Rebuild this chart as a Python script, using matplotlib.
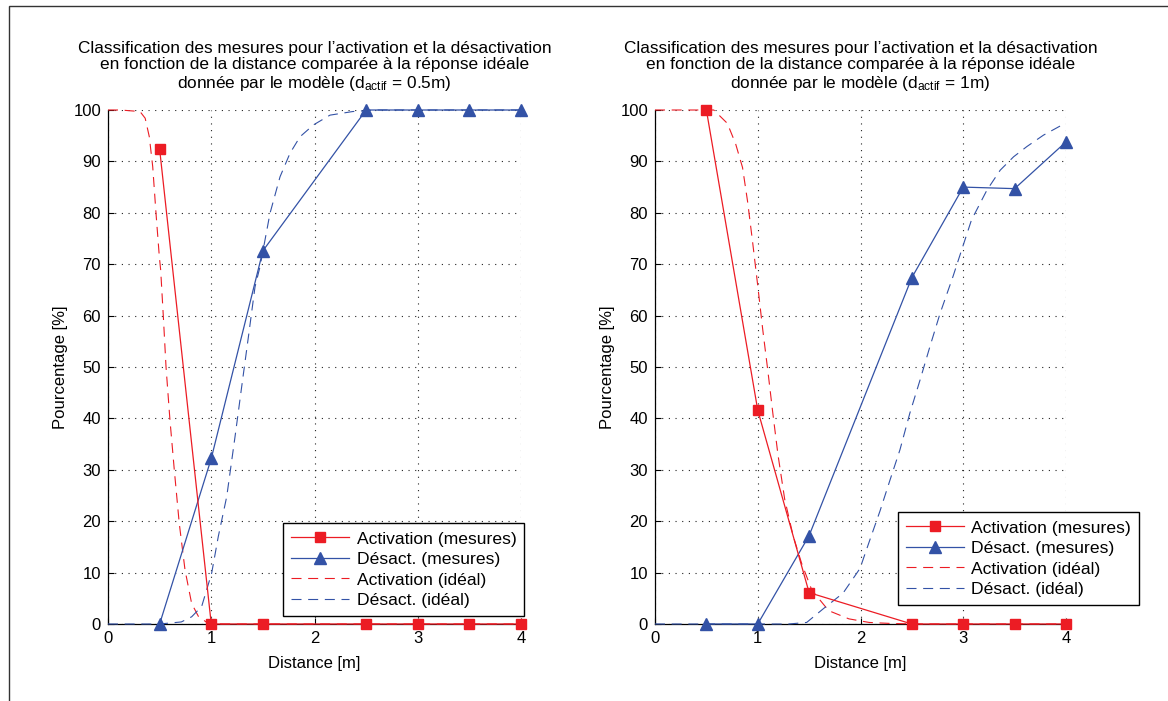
import matplotlib
matplotlib.use("Agg")
import matplotlib.pyplot as plt
from matplotlib.patches import Rectangle

plt.rcParams['font.family'] = ['Liberation Sans', 'DejaVu Sans']
plt.rcParams['mathtext.fontset'] = 'custom'
plt.rcParams['mathtext.rm'] = 'Liberation Sans'
plt.rcParams['mathtext.it'] = 'Liberation Sans'

RED = '#ec1c24'
BLUE = '#3352a6'

# measured distances
dist_meas = [0.5, 1.0, 1.5, 2.5, 3.0, 3.5, 4.0]

# Left panel (d_actif = 0.5 m)
act_meas_05 = [92.4, 0, 0, 0, 0, 0, 0]
des_meas_05 = [0, 32.2, 72.6, 100, 100, 100, 100]
act_ideal_x_05 = [0, 0.12, 0.31, 0.36, 0.40, 0.433, 0.465, 0.497, 0.51, 0.536, 0.562,
                  0.60, 0.642, 0.69, 0.746, 0.81, 0.875, 0.95, 1.1, 4.0]
act_ideal_y_05 = [100, 100, 99.7, 98.4, 94.8, 89, 79.9, 71.5, 68.9, 59.8, 50,
                  39.7, 30, 19.6, 10.5, 4, 1.5, 0.4, 0, 0]
des_ideal_x_05 = [0, 0.5, 0.71, 0.81, 0.907, 1.004, 1.068, 1.15, 1.23, 1.295, 1.36,
                  1.424, 1.472, 1.569, 1.666, 1.763, 1.86, 1.99, 2.15, 2.37, 2.6, 4.0]
des_ideal_y_05 = [0, 0, 0.4, 1.4, 3.4, 9.9, 17, 24.8, 36.4, 46.2, 55.9,
                  65.6, 69.5, 79.9, 87, 91.6, 94.8, 97.1, 99, 99.7, 100, 100]

# Right panel (d_actif = 1 m)
act_meas_1 = [100, 41.6, 6.1, 0, 0, 0, 0]
des_meas_1 = [0, 0, 17.2, 67.4, 85.0, 84.7, 93.8]
act_ideal_x_1 = [0, 0.572, 0.704, 0.785, 0.852, 0.901, 0.95, 1.0, 1.049, 1.098, 1.148,
                 1.197, 1.262, 1.345, 1.427, 1.526, 1.69, 1.887, 2.085, 2.3, 2.6, 4.0]
act_ideal_y_1 = [100, 100, 97.4, 93.4, 88.8, 82.2, 74.3, 65.8, 57.2, 49.3, 40.8,
                 32.9, 24.3, 17.1, 11.8, 6.6, 2.6, 1.0, 0.3, 0.1, 0, 0]
des_ideal_x_1 = [0, 1.3, 1.476, 1.64, 1.83, 1.995, 2.09, 2.19, 2.287, 2.384, 2.48,
                 2.58, 2.676, 2.774, 2.90, 2.985, 3.08, 3.23, 3.36, 3.49, 3.62, 3.78, 3.99]
des_ideal_y_1 = [0, 0, 0.3, 3, 6, 10.8, 16.3, 22, 28, 33.9, 41,
                 47.5, 54, 60.4, 67.6, 72.8, 78.6, 84.4, 88.3, 90.9, 92.9, 95.1, 97.4]

titles = [
    "Classification des mesures pour l\u2019activation et la désactivation\n"
    "en fonction de la distance comparée à la réponse idéale\n"
    "donnée par le modèle (d$_{\\mathrm{actif}}$ = 0.5m)",
    "Classification des mesures pour l\u2019activation et la désactivation\n"
    "en fonction de la distance comparée à la réponse idéale\n"
    "donnée par le modèle (d$_{\\mathrm{actif}}$ = 1m)",
]
legend_labels = ["Activation (mesures)", "Désact. (mesures)",
                 "Activation (idéal)", "Désact. (idéal)"]
xticks = [0, 1, 2, 3, 4]
yticks = [0, 10, 20, 30, 40, 50, 60, 70, 80, 90, 100]

panels = [
    dict(act=act_meas_05, des=des_meas_05, aix=act_ideal_x_05, aiy=act_ideal_y_05,
         dix=des_ideal_x_05, diy=des_ideal_y_05, rect=[108/1168, 77/701, 413/1168, 514/701],
         leg=(0.424, 0.0156)),
    dict(act=act_meas_1, des=des_meas_1, aix=act_ideal_x_1, aiy=act_ideal_y_1,
         dix=des_ideal_x_1, diy=des_ideal_y_1, rect=[655/1168, 77/701, 411/1168, 514/701],
         leg=(0.591, 0.037)),
]

fig = plt.figure(figsize=(11.68, 7.01), dpi=100)
fig.patch.set_facecolor('white')

# frame around figure (only left and top visible)
fig.add_artist(Rectangle((9/1168, -0.5), 2.0, 1.5 - 6/701, transform=fig.transFigure,
                         fill=False, edgecolor='#333333', linewidth=1.0))

dash = (0, (9, 6))
for i, p in enumerate(panels):
    ax = fig.add_axes(p['rect'])
    ax.plot(p['aix'], p['aiy'], color=RED, lw=0.8, linestyle=dash, clip_on=False, zorder=3)
    ax.plot(p['dix'], p['diy'], color=BLUE, lw=0.8, linestyle=dash, clip_on=False, zorder=3)
    l1, = ax.plot(dist_meas, p['act'], color=RED, lw=0.9, marker='s', markersize=7.5,
                  markeredgecolor=RED, markerfacecolor=RED, clip_on=False, zorder=5)
    l2, = ax.plot(dist_meas, p['des'], color=BLUE, lw=0.9, marker='^', markersize=9,
                  markeredgecolor=BLUE, markerfacecolor=BLUE, clip_on=False, zorder=4)
    h3, = ax.plot([], [], color=RED, lw=0.8, linestyle=dash)
    h4, = ax.plot([], [], color=BLUE, lw=0.8, linestyle=dash)

    ax.set_xlim(0, 4)
    ax.set_ylim(0, 100)
    ax.set_xticks(xticks)
    ax.set_yticks(yticks)
    ax.spines['top'].set_visible(False)
    ax.spines['right'].set_visible(False)
    ax.spines['left'].set_linewidth(0.9)
    ax.spines['bottom'].set_linewidth(0.9)
    ax.tick_params(direction='in', length=4, width=0.8, labelsize=12, pad=5, colors='black')
    ax.grid(True, color='#222222', linestyle=(0, (1, 5)), linewidth=0.8)
    ax.set_axisbelow(True)
    ax.set_xlabel("Distance [m]", fontsize=12, labelpad=7)
    ax.set_ylabel("Pourcentage [%]", fontsize=12, labelpad=4)
    ax.set_title(titles[i], fontsize=12.4, pad=16, linespacing=1.12)

    leg = ax.legend([l1, l2, h3, h4], legend_labels, loc='lower left',
                    bbox_to_anchor=p['leg'], fontsize=12.6, frameon=True, fancybox=False,
                    framealpha=1, edgecolor='black', handlelength=3.3, handletextpad=0.45,
                    borderpad=0.45, labelspacing=0.3, borderaxespad=0)
    leg.get_frame().set_linewidth(1.0)
    leg.set_zorder(10)

fig.savefig("out.png", dpi=100, facecolor='white')
